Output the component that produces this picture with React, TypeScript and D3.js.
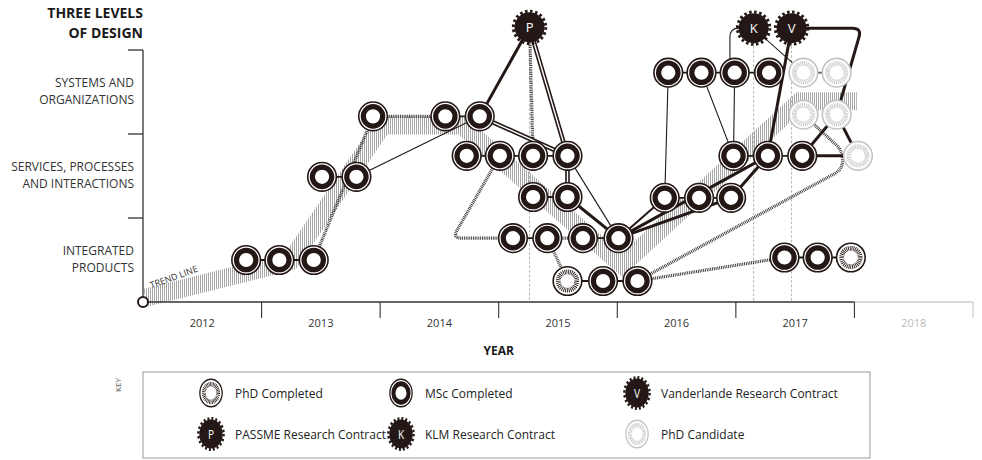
import React from 'react';
import * as d3 from 'd3';

const titleLines = ['THREE LEVELS', 'OF DESIGN'];
const levelLabels = [
  ['INTEGRATED', 'PRODUCTS'],
  ['SERVICES, PROCESSES', 'AND INTERACTIONS'],
  ['SYSTEMS AND', 'ORGANIZATIONS'],
];
const levelTicks = [1, 2, 3];
const years = [2012, 2013, 2014, 2015, 2016, 2017, 2018];
const futureYears = [2018];
const axisTitle = 'YEAR';
const trendLabel = 'TREND LINE';
const keyLabel = 'KEY';

// id, year, level, type
const nodes: [string, number, number, string][] = [
  ['a1', 2012.87, 0.5, 'msc'], ['a2', 2013.15, 0.5, 'msc'], ['a3', 2013.44, 0.5, 'msc'],
  ['b1', 2013.51, 1.49, 'msc'], ['b2', 2013.8, 1.49, 'msc'],
  ['c1', 2013.94, 2.21, 'msc'], ['c2', 2014.55, 2.21, 'msc'], ['c3', 2014.84, 2.21, 'msc'],
  ['d1', 2014.73, 1.74, 'msc'], ['d2', 2015.01, 1.74, 'msc'], ['d3', 2015.29, 1.74, 'msc'], ['d4', 2015.58, 1.74, 'msc'],
  ['e1', 2015.29, 1.25, 'msc'], ['e2', 2015.58, 1.25, 'msc'],
  ['f1', 2015.12, 0.76, 'msc'], ['f2', 2015.41, 0.76, 'msc'], ['f3', 2015.71, 0.76, 'msc'], ['f4', 2016.01, 0.76, 'msc'],
  ['g1', 2015.58, 0.25, 'phd'], ['g2', 2015.88, 0.25, 'msc'], ['g3', 2016.17, 0.25, 'msc'],
  ['P', 2015.26, 3.27, 'P'],
  ['h1', 2016.43, 2.73, 'msc'], ['h2', 2016.71, 2.73, 'msc'], ['h3', 2016.99, 2.73, 'msc'], ['h4', 2017.28, 2.73, 'msc'],
  ['h5', 2017.57, 2.73, 'cand'], ['h6', 2017.85, 2.73, 'cand'],
  ['K', 2017.15, 3.26, 'K'], ['V', 2017.47, 3.26, 'V'],
  ['i1', 2017.57, 2.23, 'cand'], ['i2', 2017.85, 2.23, 'cand'],
  ['j1', 2016.98, 1.74, 'msc'], ['j2', 2017.27, 1.74, 'msc'], ['j3', 2017.56, 1.74, 'msc'], ['j4', 2018.03, 1.74, 'cand'],
  ['k1', 2016.4, 1.24, 'msc'], ['k2', 2016.69, 1.24, 'msc'], ['k3', 2016.96, 1.24, 'msc'],
  ['l1', 2017.41, 0.53, 'msc'], ['l2', 2017.69, 0.53, 'msc'], ['l3', 2017.97, 0.53, 'phd'],
];

const connectorEdges = [
  ['a1', 'a2'], ['a2', 'a3'], ['b1', 'b2'], ['c2', 'c3'], ['d1', 'd2'], ['d2', 'd3'], ['d3', 'd4'],
  ['e1', 'e2'], ['f1', 'f2'], ['f3', 'f4'], ['g1', 'g2'], ['g2', 'g3'], ['h1', 'h2'], ['h2', 'h3'],
  ['h3', 'h4'], ['h5', 'h6'], ['j1', 'j2'], ['j2', 'j3'], ['k1', 'k2'], ['k2', 'k3'], ['l1', 'l2'], ['l2', 'l3'],
];
const thinEdges = [['b2', 'c3'], ['d4', 'f4'], ['h1', 'k1'], ['h2', 'j1'], ['h3', 'j1'], ['K', 'h5']];
const mediumEdges = [['f4', 'k1']];
const thickEdges = [
  ['P', 'c3'], ['e2', 'f4'], ['f4', 'j2'], ['f4', 'k3'], ['k3', 'j2'], ['V', 'j2'],
  ['i2', 'j3'], ['i2', 'j4'], ['j3', 'j4'],
];
const doubleEdges = [['P', 'd4'], ['c3', 'd4'], ['d4', 'e2']];
const hatchedEdges = [['a3', 'c1'], ['c1', 'c2'], ['f2', 'f3'], ['f2', 'g1'], ['P', 'd3'], ['g3', 'l1']];
// routed edges: from, waypoints [year, level], to, style
const routedFrom = ['d2', 'g3', 'K', 'V'];
const routedTo = ['f1', 'i1', 'h3', 'i2'];
const routedStyle = ['hatched', 'hatched', 'thin', 'thick'];
const routedVia: [number, number][][] = [
  [[2014.61, 0.76]],
  [[2017.9, 1.58], [2017.9, 1.8]],
  [[2016.95, 3.26], [2016.95, 2.85]],
  [[2018.06, 3.26]],
];
const guideFrom = ['P', 'K', 'V'];

// trend band centre line [year, level]
const trendLine: [number, number][] = [
  [2012.02, 0.05], [2013.24, 0.48], [2014.02, 2.1], [2014.69, 2.1],
  [2016.04, 0.44], [2017.54, 2.39], [2018.02, 2.39],
];

const legendTypes = ['phd', 'msc', 'V', 'P', 'K', 'cand'];
const legendLabels = [
  'PhD Completed', 'MSc Completed', 'Vanderlande Research Contract',
  'PASSME Research Contract', 'KLM Research Contract', 'PhD Candidate',
];

const INK = '#231815';
const GREY = '#c4c4c4';
const FONT = '"Open Sans", "Noto Sans", sans-serif';

function roundedPath(pts: [number, number][], r: number) {
  const p = d3.path();
  p.moveTo(pts[0][0], pts[0][1]);
  for (let i = 1; i < pts.length - 1; i++) {
    const [x0, y0] = pts[i - 1];
    const [x1, y1] = pts[i];
    const [x2, y2] = pts[i + 1];
    const d1 = Math.hypot(x1 - x0, y1 - y0) || 1;
    const d2 = Math.hypot(x2 - x1, y2 - y1) || 1;
    const rr = Math.min(r, d1 / 2, d2 / 2);
    p.lineTo(x1 - ((x1 - x0) / d1) * rr, y1 - ((y1 - y0) / d1) * rr);
    p.quadraticCurveTo(x1, y1, x1 + ((x2 - x1) / d2) * rr, y1 + ((y2 - y1) / d2) * rr);
  }
  const last = pts[pts.length - 1];
  p.lineTo(last[0], last[1]);
  return p.toString();
}

function NodeMark({ type, x, y, sx = 1, sy = 1 }: { type: string; x: number; y: number; sx?: number; sy?: number }) {
  const tr = `translate(${x},${y}) scale(${sx},${sy})`;
  if (type === 'msc') {
    return (
      <g transform={tr}>
        <circle r={14.3} fill="#fff" stroke={INK} strokeWidth={1.6} />
        <circle r={9.7} fill="none" stroke={INK} strokeWidth={5.2} />
      </g>
    );
  }
  if (type === 'phd' || type === 'cand') {
    const c = type === 'phd' ? INK : GREY;
    return (
      <g transform={tr}>
        <circle r={14.3} fill="#fff" stroke={c} strokeWidth={1.6} />
        <circle r={9.2} fill="none" stroke={c} strokeWidth={4.8} strokeDasharray="0.85 0.9" />
      </g>
    );
  }
  const circ = 2 * Math.PI * 16.2;
  const seg = circ / 40;
  return (
    <g transform={tr}>
      <circle r={15} fill={INK} />
      <circle r={16.2} fill="none" stroke={INK} strokeWidth={3} strokeDasharray={`${seg} ${seg}`} />
      <text x={0} y={5} textAnchor="middle" fill="#fff" fontSize={13} fontFamily={FONT}>{type}</text>
    </g>
  );
}

export default function App() {
  const x = d3.scaleLinear().domain([2012, 2019]).range([143, 973]);
  const y = d3.scaleLinear().domain([0, 3]).range([302, 50]);
  const pos: Record<string, [number, number, string]> = {};
  nodes.forEach(([id, yr, lv, t]) => { pos[id] = [x(yr), y(lv), t]; });
  const seg = (a: string, b: string) => `M${pos[a][0]},${pos[a][1]}L${pos[b][0]},${pos[b][1]}`;
  const trendPath = d3.line<[number, number]>().x(d => x(d[0])).y(d => y(d[1]))(trendLine) || '';
  const axisY = y(0);
  const splitX = x(futureYears[0]);

  const styleProps = (s: string) => {
    if (s === 'hatched') return { stroke: '#3a3330', strokeWidth: 3.2, strokeDasharray: '0.9 0.9' };
    if (s === 'thin') return { stroke: INK, strokeWidth: 1.1 };
    if (s === 'thick') return { stroke: INK, strokeWidth: 3 };
    return { stroke: INK, strokeWidth: 2 };
  };

  const legendColX = [211, 401, 637];
  const legendRowY = [393, 434];

  return (
    <svg width={982} height={460} style={{ position: 'absolute', left: 0, top: 0, background: '#fff' }} fontFamily={FONT}>
      <defs>
        <pattern id="hatch" width={2} height={4} patternUnits="userSpaceOnUse">
          <rect width={2} height={4} fill="#fff" />
          <line x1={0.5} y1={0} x2={0.5} y2={4} stroke="#a6a6a6" strokeWidth={1} />
        </pattern>
      </defs>

      {/* title */}
      {titleLines.map((t, i) => (
        <text key={t} x={143} y={18 + i * 20} textAnchor="end" fontSize={14} fontWeight={700} fill="#1a1a1a">{t}</text>
      ))}

      {/* trend band */}
      <path d={trendPath} fill="none" stroke="url(#hatch)" strokeWidth={18} strokeLinejoin="miter" />
      <text transform={`translate(${x(2012.07)},${y(0.16)}) rotate(-20)`} fontSize={9} fill="#333">{trendLabel}</text>

      {/* y axis */}
      <line x1={x(2012)} x2={x(2012)} y1={y(3)} y2={axisY} stroke="#333" strokeWidth={1.3} />
      {levelTicks.map(l => (
        <line key={l} x1={x(2012) - 15} x2={x(2012)} y1={y(l)} y2={y(l)} stroke="#333" strokeWidth={1.3} />
      ))}
      {levelLabels.map((lines, i) => lines.map((t, j) => (
        <text key={t} x={134} y={y(i + 0.5) + (j === 0 ? -5 : 12)} textAnchor="end" fontSize={12} fill="#333">{t}</text>
      )))}

      {/* x axis */}
      <line x1={x(2012)} x2={splitX} y1={axisY} y2={axisY} stroke="#333" strokeWidth={1.3} />
      <line x1={splitX} x2={x(2019)} y1={axisY} y2={axisY} stroke="#ccc" strokeWidth={1.3} />
      {years.map(yr => (
        <line key={yr} x1={x(yr + 1)} x2={x(yr + 1)} y1={axisY} y2={axisY + 16}
          stroke={futureYears.includes(yr) ? '#ccc' : '#333'} strokeWidth={1.1} />
      ))}
      {years.map(yr => (
        <text key={'l' + yr} x={x(yr + 0.5)} y={327} textAnchor="middle" fontSize={11}
          fill={futureYears.includes(yr) ? '#bbb' : '#333'}>{String(yr)}</text>
      ))}
      <text x={x(2015)} y={355} textAnchor="middle" fontSize={12} fontWeight={700} fill="#1a1a1a">{axisTitle}</text>

      {/* guides */}
      {guideFrom.map(id => (
        <line key={id} x1={pos[id][0]} x2={pos[id][0]} y1={pos[id][1]} y2={axisY}
          stroke="#aaa" strokeWidth={0.9} strokeDasharray="2.5 2" />
      ))}

      {/* edges */}
      {hatchedEdges.map(([a, b]) => <path key={a + b} d={seg(a, b)} fill="none" {...styleProps('hatched')} />)}
      {routedFrom.map((a, i) => {
        const b = routedTo[i];
        const pts: [number, number][] = [
          [pos[a][0], pos[a][1]],
          ...routedVia[i].map(v => [x(v[0]), y(v[1])] as [number, number]),
          [pos[b][0], pos[b][1]],
        ];
        return <path key={'r' + i} d={roundedPath(pts, 9)} fill="none" {...styleProps(routedStyle[i])} />;
      })}
      {thinEdges.map(([a, b]) => <path key={a + b} d={seg(a, b)} fill="none" {...styleProps('thin')} />)}
      {mediumEdges.map(([a, b]) => <path key={a + b} d={seg(a, b)} fill="none" {...styleProps('medium')} />)}
      {thickEdges.map(([a, b]) => <path key={a + b} d={seg(a, b)} fill="none" {...styleProps('thick')} />)}
      {doubleEdges.map(([a, b]) => (
        <g key={a + b}>
          <path d={seg(a, b)} stroke={INK} strokeWidth={4.6} fill="none" />
          <path d={seg(a, b)} stroke="#fff" strokeWidth={1.4} fill="none" />
        </g>
      ))}
      {connectorEdges.map(([a, b]) => (
        <path key={a + b} d={seg(a, b)} stroke={pos[a][2] === 'cand' ? '#555' : INK} strokeWidth={1.8} fill="none" />
      ))}

      {/* nodes */}
      {nodes.map(([id]) => <NodeMark key={id} type={pos[id][2]} x={pos[id][0]} y={pos[id][1]} />)}

      {/* origin */}
      <circle cx={x(2012)} cy={axisY} r={5} fill="#fff" stroke={INK} strokeWidth={2} />

      {/* legend */}
      <rect x={143} y={372} width={727} height={86} fill="none" stroke="#999" strokeWidth={1} />
      <text transform="translate(121,385) rotate(-90)" textAnchor="middle" fontSize={8} fill="#555">{keyLabel}</text>
      {legendTypes.map((t, i) => {
        const cx = legendColX[i % 3];
        const cy = legendRowY[Math.floor(i / 3)];
        return (
          <g key={t}>
            <NodeMark type={t} x={cx} y={cy} sx={0.78} sy={0.96} />
            <text x={cx + 24} y={cy + 5} fontSize={12} fill="#222">{legendLabels[i]}</text>
          </g>
        );
      })}
    </svg>
  );
}
